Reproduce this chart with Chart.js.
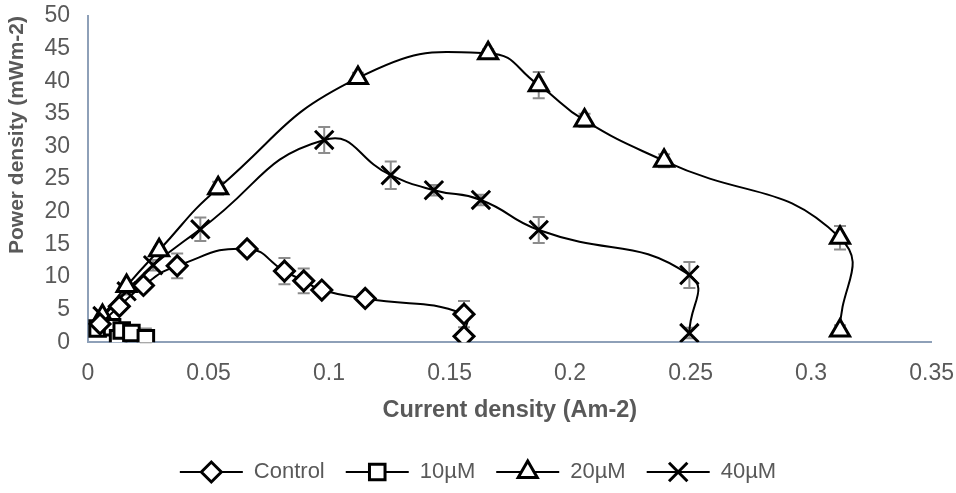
<!DOCTYPE html>
<html>
<head>
<meta charset="utf-8">
<script src="https://cdn.jsdelivr.net/npm/chart.js@4.4.1/dist/chart.umd.min.js"></script>
<style>
  html, body { margin: 0; padding: 0; background: #fff; }
  #wrap { width: 956px; height: 493px; }
</style>
</head>
<body>
<div id="wrap"><canvas id="chart" width="956" height="493"></canvas></div>
<script>
// Power density vs current density, four treatments
const seriesNames = ['Control', '10µM', '20µM', '40µM'];

const controlX   = [0.005, 0.013, 0.023, 0.037, 0.066, 0.0815, 0.0895, 0.097, 0.115, 0.156, 0.156];
const controlY   = [2.8, 5.5, 8.7, 11.7, 14.3, 10.9, 9.4, 8.0, 6.7, 4.3, 0.9];
const controlErr = [0.3, 0.3, 0.4, 1.9, 0.5, 2.0, 1.9, 0.5, 0.5, 2.0, 0.8];

const tenX   = [0.004, 0.010, 0.0125, 0.014, 0.018, 0.024];
const tenY   = [2.1, 2.3, 0.6, 1.8, 1.4, 0.6];
const tenErr = [0.2, 0.2, 0.2, 0.2, 0.5, 1.5];

const twentyX   = [0.006, 0.016, 0.0295, 0.054, 0.112, 0.166, 0.187, 0.206, 0.239, 0.312, 0.312];
const twentyY   = [4.0, 8.6, 14.1, 23.6, 40.5, 44.3, 39.4, 34.0, 27.8, 16.0, 1.8];
const twentyErr = [0.3, 0.3, 0.5, 1.0, 0.8, 0.6, 2.0, 1.0, 1.0, 1.8, 0.8];

const fortyX   = [0.006, 0.016, 0.027, 0.0466, 0.098, 0.1256, 0.1435, 0.163, 0.187, 0.2495, 0.2495];
const fortyY   = [4.0, 7.8, 11.8, 17.3, 31.0, 25.6, 23.3, 21.8, 17.2, 10.3, 1.4];
const fortyErr = [0.3, 0.5, 0.8, 1.8, 2.0, 2.1, 0.8, 0.8, 2.0, 2.0, 0.8];

const xTickLabels = ['0', '0.05', '0.1', '0.15', '0.2', '0.25', '0.3', '0.35'];
const yTickLabels = ['0', '5', '10', '15', '20', '25', '30', '35', '40', '45', '50'];

const TEXT = '#595959';
const AXIS = '#8EA0B8';
const ERR  = '#8C8C8C';
const FONT = "'Liberation Sans', Arial, sans-serif";
const LEGEND_BOX = 63;

function pts(xs, ys) {
  return xs.map((x, i) => ({ x, y: ys[i] }));
}

function makeSeries(label, xs, ys, errs, style, radius) {
  return {
    label,
    data: pts(xs, ys),
    errorBars: errs,
    showLine: true,
    tension: 0.5,
    borderColor: '#000',
    borderWidth: 2,
    pointStyle: style,
    pointRadius: radius,
    pointHoverRadius: radius,
    pointBackgroundColor: '#fff',
    pointBorderColor: '#000',
    pointBorderWidth: 3,
  };
}

// vertical error bars, drawn under the series
const errorBars = {
  id: 'errorBars',
  beforeDatasetsDraw(chart) {
    const { ctx, scales: { x, y } } = chart;
    ctx.save();
    ctx.strokeStyle = ERR;
    ctx.lineWidth = 2;
    chart.data.datasets.forEach(ds => {
      ds.data.forEach((p, i) => {
        const e = ds.errorBars[i];
        const px = x.getPixelForValue(p.x);
        const top = y.getPixelForValue(p.y + e);
        const bot = y.getPixelForValue(Math.max(p.y - e, 0));
        ctx.beginPath();
        ctx.moveTo(px, top); ctx.lineTo(px, bot);
        ctx.moveTo(px - 6, top); ctx.lineTo(px + 6, top);
        ctx.moveTo(px - 6, bot); ctx.lineTo(px + 6, bot);
        ctx.stroke();
      });
    });
    ctx.restore();
  }
};

// legend entries as line + marker, like the spreadsheet legend
const legendLines = {
  id: 'legendLines',
  afterDraw(chart) {
    const legend = chart.legend;
    if (!legend || !legend.legendHitBoxes) return;
    const ctx = chart.ctx;
    legend.legendHitBoxes.forEach((box, i) => {
      const ds = chart.data.datasets[legend.legendItems[i].datasetIndex];
      const cy = box.top + box.height / 2;
      ctx.save();
      ctx.strokeStyle = '#000';
      ctx.lineWidth = 2;
      ctx.beginPath();
      ctx.moveTo(box.left, cy);
      ctx.lineTo(box.left + LEGEND_BOX, cy);
      ctx.stroke();
      ctx.fillStyle = '#fff';
      ctx.lineWidth = 3;
      Chart.helpers.drawPoint(ctx, {
        pointStyle: ds.pointStyle, radius: ds.pointRadius, rotation: 0, borderWidth: 3
      }, box.left + LEGEND_BOX / 2, cy);
      ctx.restore();
    });
  }
};

// invisible tick marks, used only to space labels off the axis
const spacerGrid = len => ({
  display: true,
  drawOnChartArea: false,
  drawTicks: true,
  tickLength: len,
  color: 'rgba(0,0,0,0)',
});

new Chart(document.getElementById('chart'), {
  type: 'scatter',
  data: {
    datasets: [
      makeSeries(seriesNames[0], controlX, controlY, controlErr, 'rectRot', 10),
      makeSeries(seriesNames[1], tenX, tenY, tenErr, 'rect', 11),
      makeSeries(seriesNames[2], twentyX, twentyY, twentyErr, 'triangle', 11),
      makeSeries(seriesNames[3], fortyX, fortyY, fortyErr, 'crossRot', 13),
    ],
  },
  options: {
    responsive: false,
    animation: false,
    layout: { padding: { top: 0, right: 0, bottom: 0, left: 0 } },
    plugins: {
      tooltip: { enabled: false },
      legend: {
        position: 'bottom',
        labels: {
          color: TEXT,
          font: { family: FONT, size: 22 },
          boxWidth: LEGEND_BOX,
          boxHeight: 22,
          padding: 21,
          generateLabels: chart => chart.data.datasets.map((ds, i) => ({
            text: ds.label,
            datasetIndex: i,
            fillStyle: 'rgba(0,0,0,0)',
            strokeStyle: 'rgba(0,0,0,0)',
            lineWidth: 0,
            fontColor: TEXT,
            hidden: false,
          })),
        },
      },
    },
    scales: {
      x: {
        type: 'linear',
        min: 0,
        max: 0.35,
        afterBuildTicks: axis => {
          axis.ticks = xTickLabels.map(v => ({ value: Number(v) }));
        },
        ticks: {
          color: TEXT,
          font: { family: FONT, size: 23 },
          padding: 2,
          maxRotation: 0,
          autoSkip: false,
          callback: (v, i) => xTickLabels[i],
        },
        grid: spacerGrid(16),
        border: { display: true, color: AXIS, width: 2 },
        title: {
          display: true,
          text: 'Current density (Am-2)',
          color: TEXT,
          font: { family: FONT, size: 23.5, weight: 'bold' },
          padding: { top: 7, bottom: 15 },
        },
      },
      y: {
        type: 'linear',
        min: 0,
        max: 50,
        afterBuildTicks: axis => {
          axis.ticks = yTickLabels.map(v => ({ value: Number(v) }));
        },
        afterFit: axis => { axis.width = 88; },
        ticks: {
          color: TEXT,
          font: { family: FONT, size: 23 },
          padding: 2,
          autoSkip: false,
          callback: (v, i) => yTickLabels[i],
        },
        grid: spacerGrid(16),
        border: { display: true, color: AXIS, width: 2 },
        title: {
          display: true,
          text: 'Power density (mWm-2)',
          align: 'end',
          color: TEXT,
          font: { family: FONT, size: 21, weight: 'bold' },
          padding: { top: 5, bottom: 0 },
        },
      },
    },
  },
  plugins: [errorBars, legendLines],
});
</script>
</body>
</html>
